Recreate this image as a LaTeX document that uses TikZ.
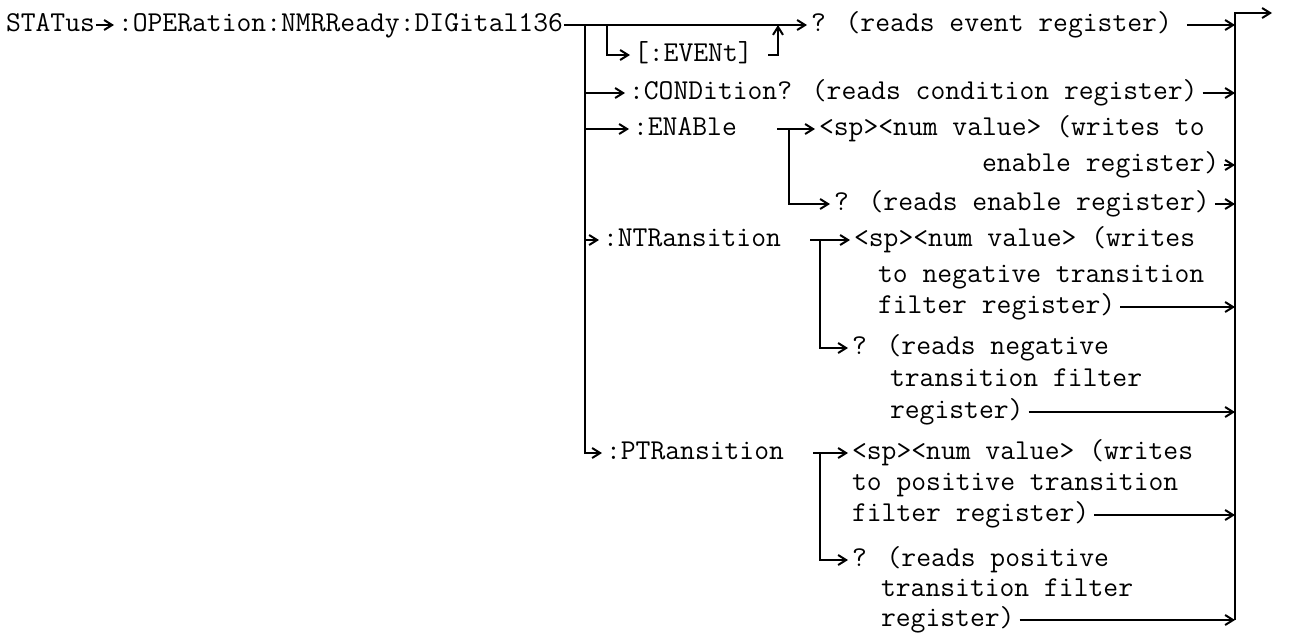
\documentclass[tikz,border=0pt]{standalone}
\usetikzlibrary{arrows.meta}
\begin{document}
\begin{tikzpicture}[x=0.5pt, y=-0.5pt, line width=1pt,
  >={Straight Barb[length=4pt,width=5pt]},
  cmd/.style={inner sep=0pt, anchor=west, text height=8.7pt, text depth=2.5pt,
    font=\ttfamily\fontsize{14.4}{17}\selectfont},
  into/.style={->, shorten >=1.5pt},
  tobus/.style={->, shorten <=2pt}]
\useasboundingbox (0,0) rectangle (1290,634);
% command root
\node[cmd] (status) at (5,25) {STATus};
\node[cmd] (oper) at (117,25) {:OPERation:NMRReady:DIGital136};
\node[cmd] (evt) at (633,55) {[:EVENt]};
\node[cmd] (evq) at (810,25) {? (reads event register)};
\node[cmd] (cond) at (628,93) {:CONDition? (reads condition register)};
% enable
\node[cmd] (ena) at (632,129) {:ENABle};
\node[cmd] (enaw1) at (818,129) {<sp><num value> (writes to};
\node[cmd] (enaw2) at (981,165) {enable register)};
\node[cmd] (enaq) at (833,204) {? (reads enable register)};
% negative transition
\node[cmd] (ntr) at (602,240) {:NTRansition};
\node[cmd] (ntrw1) at (853,240) {<sp><num value> (writes};
\node[cmd] (ntrw2) at (877,276) {to negative transition};
\node[cmd] (ntrw3) at (877,307) {filter register)};
\node[cmd] (ntrq1) at (851,348) {? (reads negative};
\node[cmd] (ntrq2) at (889,380) {transition filter};
\node[cmd] (ntrq3) at (889,412) {register)};
% positive transition
\node[cmd] (ptr) at (605,453) {:PTRansition};
\node[cmd] (ptrw1) at (851,453) {<sp><num value> (writes};
\node[cmd] (ptrw2) at (851,484) {to positive transition};
\node[cmd] (ptrw3) at (851,515) {filter register)};
\node[cmd] (ptrq1) at (851,560) {? (reads positive};
\node[cmd] (ptrq2) at (880,590) {transition filter};
\node[cmd] (ptrq3) at (880,620) {register)};
% bus points
\coordinate (lbus) at (585,25);
\coordinate (ebus) at (607,25);
\coordinate (eret) at (768,55);
\coordinate (eup) at (778,25);
\coordinate (enasplit) at (777,129);
\coordinate (enabus) at (789,129);
\coordinate (ntrsplit) at (810,240);
\coordinate (ntrbus) at (820,240);
\coordinate (ptrsplit) at (813,453);
\coordinate (ptrbus) at (820,453);
\coordinate (rtop) at (1235,13);
\coordinate (rbot) at (1235,620);
\coordinate (rend) at (1272,13);
% connectors
\draw[into] (status) -- (oper);
\draw[into] (oper) -- (evq);
\draw[into] (ebus) |- (evt);
\draw[->] (eret) -| (eup);
\draw[into] (lbus) |- (ptr);
\draw[into] (lbus |- cond) -- (cond);
\draw[into] (lbus |- ena) -- (ena);
\draw[into] (lbus |- ntr) -- (ntr);
\draw[into] (enasplit) -- (enaw1);
\draw[into] (enabus) |- (enaq);
\draw[into] (ntrsplit) -- (ntrw1);
\draw[into] (ntrbus) |- (ntrq1);
\draw[into] (ptrsplit) -- (ptrw1);
\draw[into] (ptrbus) |- (ptrq1);
\draw[->] (rbot) -- (rtop) -- (rend);
\draw[tobus, shorten <=7pt] (evq) -- (evq -| rtop);
\draw[tobus] (cond) -- (cond -| rtop);
\draw[tobus] (enaw2) -- (enaw2 -| rtop);
\draw[tobus] (enaq) -- (enaq -| rtop);
\draw[tobus] (ntrw3) -- (ntrw3 -| rtop);
\draw[tobus] (ntrq3) -- (ntrq3 -| rtop);
\draw[tobus] (ptrw3) -- (ptrw3 -| rtop);
\draw[tobus] (ptrq3) -- (ptrq3 -| rtop);
\end{tikzpicture}
\end{document}
